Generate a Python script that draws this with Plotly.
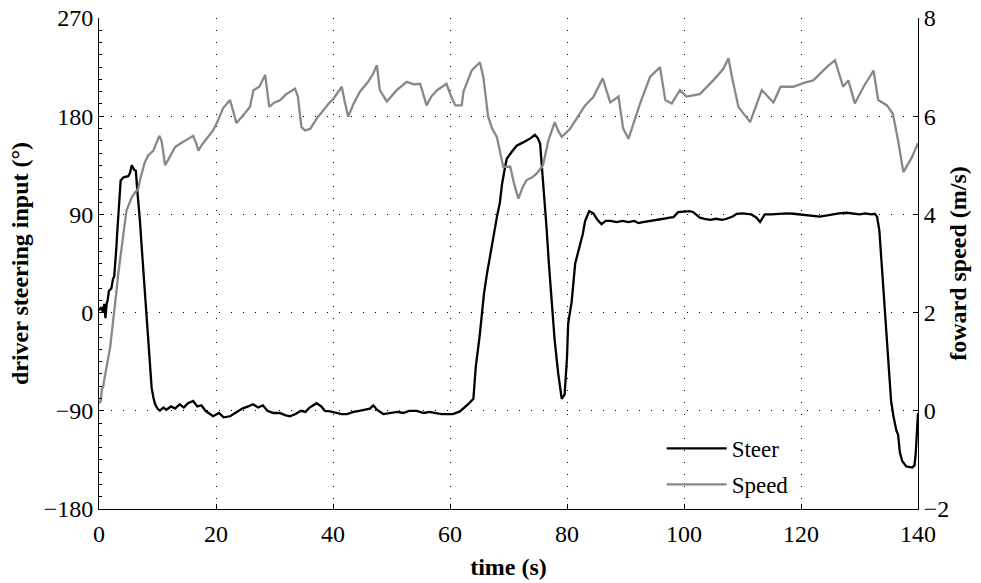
import plotly.graph_objects as go

# ---- data ----
steer_t = [0.0,0.4,0.7,0.9,1.1,1.3,1.5,1.7,2.1,2.4,2.6,2.8,3.0,3.1,3.3,3.5,3.7,4.2,5.0,5.3,5.6,6.0,6.3,6.5,6.9,7.0,7.3,7.5,7.7,7.9,8.1,8.3,8.6,8.9,9.0,9.3,9.6,10.0,10.4,11.0,11.5,12.3,13.0,13.8,14.5,15.2,16.1,16.8,17.5,18.2,19.0,19.5,20.5,21.3,22.4,23.5,24.5,25.5,26.3,27.2,28.0,28.8,29.8,30.9,31.8,32.6,33.6,34.5,35.3,36.0,37.2,38.0,38.6,39.5,40.5,41.5,42.4,43.5,44.5,45.5,46.3,46.9,47.5,48.6,49.8,51.0,52.0,53.0,54.3,55.5,56.5,57.5,58.5,59.4,60.5,61.7,62.5,63.3,64.0,64.4,65.1,65.8,66.3,66.8,67.2,67.7,68.1,68.5,68.9,69.4,69.7,70.5,71.4,72.5,73.7,74.5,75.0,75.4,75.7,76.0,76.5,76.9,77.4,77.9,78.5,79.1,79.6,80.0,80.2,80.8,81.4,82.2,82.7,83.1,83.8,84.5,85.2,85.9,86.6,87.4,88.5,89.5,90.5,91.5,92.2,93.0,94.5,95.5,96.5,97.5,98.2,99.0,100.0,101.0,101.6,102.7,103.5,104.5,105.5,106.5,107.3,108.3,109.0,110.0,111.5,112.4,113.0,113.8,115.0,116.5,117.5,118.7,120.0,121.5,123.2,124.5,125.5,126.5,127.8,129.0,130.0,131.0,132.0,132.6,133.0,133.4,134.0,134.5,134.9,135.4,135.8,136.0,136.3,136.6,136.9,137.3,138.0,139.0,139.4,139.6,139.8,140.0]
steer_deg = [2,5,0,8,-5,8,12,20,22,31,33,45,62,72,88,103,121,124,125,128,135,131,130,115,95,84,60,45,25,8,-5,-19,-47,-62,-69,-78,-84,-88,-90,-87,-89,-86,-88,-84,-87,-83,-81,-86,-85,-90,-93,-95,-92,-96,-95,-91,-88,-86,-84,-87,-85,-90,-92,-92,-94,-95,-93,-90,-91,-87,-83,-86,-90,-90.6,-92,-93,-93,-91,-90,-89,-88,-85,-89,-93,-92,-91,-92,-90,-90,-92,-91,-92,-93,-93,-93,-90.6,-87,-83,-79,-50,-20,17,35,51,62,81,90,100,118,133,141,147,153,156,159.5,163,160,155,135,112,78,45,11,-26,-56,-79,-75,-41,-10,10,45,62,72,84,93,91,85,81,84,84,83,84,83,84,82,83,84,85,86,87,87.5,92,92.5,93,92,87,86,85,86,85,86,88,90.6,91,90,87,83,90,90,90.5,91,90.6,90,89,88,89,90,91,91.5,91,90,91,90,90.6,88,75,26,-13,-47,-81,-95,-100,-108,-112,-128,-136,-141,-142,-140,-130,-110,-92]

speed_t = [0.0,0.3,0.5,0.7,1.0,1.3,1.6,1.9,2.2,2.45,2.7,3.0,3.3,3.6,3.9,4.3,4.7,5.1,5.6,6.2,6.7,7.0,7.3,7.8,8.4,9.3,9.8,10.3,10.7,11.0,11.3,12.0,13.0,14.0,15.0,16.1,16.6,17.0,17.6,18.4,19.5,20.3,21.2,22.4,23.0,23.5,24.5,25.8,26.4,27.4,28.4,28.8,29.1,30.0,31.0,32.0,33.5,34.0,34.6,35.2,36.1,37.2,38.3,39.2,40.1,41.5,42.0,42.6,43.5,44.6,46.0,46.8,47.5,48.0,49.2,50.0,50.9,52.6,53.8,54.9,55.5,56.0,56.8,57.8,59.4,60.2,60.9,62.0,62.3,63.0,63.7,65.1,65.7,66.5,67.2,68.0,68.5,69.1,70.3,71.0,71.7,72.4,73.1,74.0,74.8,75.9,76.8,77.9,78.5,79.1,80.5,81.1,82.2,83.1,84.5,86.1,86.8,87.4,88.8,89.6,90.5,91.5,92.5,94.2,95.9,96.8,97.9,99.3,100.4,102.7,105.0,106.7,107.6,108.2,109.3,111.3,112.3,113.3,115.3,116.5,118.7,120.5,122.1,124.4,125.8,127.2,128.1,129.2,130.7,132.4,133.2,134.7,135.7,136.6,137.5,138.9,140.0]
speed_ms = [0.15,0.2,0.45,0.48,0.7,0.89,1.1,1.29,1.6,1.84,2.1,2.45,2.8,3.06,3.4,3.74,4.08,4.2,4.35,4.45,4.52,4.7,4.83,5.05,5.2,5.3,5.45,5.6,5.5,5.2,5.0,5.15,5.37,5.45,5.52,5.6,5.45,5.3,5.42,5.54,5.71,5.9,6.16,6.33,6.1,5.86,6.0,6.19,6.53,6.6,6.84,6.5,6.19,6.28,6.33,6.45,6.56,6.4,5.78,5.71,5.74,5.95,6.12,6.25,6.36,6.6,6.3,5.99,6.25,6.5,6.7,6.85,7.04,6.53,6.3,6.4,6.53,6.7,6.65,6.66,6.4,6.22,6.4,6.53,6.66,6.4,6.22,6.22,6.5,6.7,6.93,7.1,6.8,6.0,5.75,5.58,5.3,4.97,4.97,4.6,4.32,4.55,4.7,4.75,4.83,5.0,5.5,5.88,5.7,5.58,5.74,5.85,6.05,6.22,6.39,6.77,6.5,6.28,6.4,5.75,5.54,5.9,6.26,6.8,7.0,6.33,6.26,6.53,6.4,6.45,6.73,6.96,7.18,6.8,6.19,5.88,6.2,6.53,6.28,6.6,6.6,6.68,6.73,7.0,7.14,6.6,6.73,6.26,6.6,6.93,6.33,6.22,6.05,5.5,4.86,5.15,5.45]

x_ticks = [0, 20, 40, 60, 80, 100, 120, 140]
y_ticks = [-180, -90, 0, 90, 180, 270]
y2_ticks = [-2, 0, 2, 4, 6, 8]


def lab(v):
    return str(v).replace("-", "\u2212")


FONT = "Liberation Serif, Times New Roman, serif"
FS = 24

fig = go.Figure()
fig.add_trace(go.Scatter(x=steer_t, y=steer_deg, mode="lines", name="Steer",
                         line=dict(color="black", width=2.3), legendgroup="a"))
fig.add_trace(go.Scatter(x=speed_t, y=speed_ms, mode="lines", name="Speed", yaxis="y2",
                         line=dict(color="#888888", width=2.3), legendgroup="b"))

axis_common = dict(showline=True, linecolor="black", linewidth=1, ticks="inside",
                   ticklen=5, tickcolor="black", zeroline=False, automargin=False,
                   tickfont=dict(family=FONT, size=FS, color="black"))

fig.update_layout(
    width=981, height=583,
    margin=dict(l=99, r=63, t=18, b=74),
    paper_bgcolor="white", plot_bgcolor="white",
    font=dict(family=FONT, color="black"),
    xaxis=dict(range=[0, 140], tickvals=x_ticks, ticktext=[lab(v) for v in x_ticks],
               showgrid=True, gridcolor="black", griddash="1px,11px", gridwidth=1,
               ticklabelstandoff=3,
               title=dict(text="<b>time (s)</b>", font=dict(family=FONT, size=FS), standoff=12),
               **axis_common),
    yaxis=dict(range=[-180, 270], tickvals=y_ticks, ticktext=[lab(v) for v in y_ticks],
               showgrid=True, gridcolor="black", griddash="1px,11px", gridwidth=1,
               minor=dict(dtick=11.25, ticks="inside", ticklen=3, tickcolor="black", showgrid=False),
               title=dict(text="<b>driver steering input (\u00b0)</b>", font=dict(family=FONT, size=FS), standoff=8),
               **axis_common),
    yaxis2=dict(range=[-2, 8], tickvals=y2_ticks, ticktext=[lab(v) for v in y2_ticks],
                overlaying="y", side="right", showgrid=False,
                title=dict(text="<b>foward speed (m/s)</b>", font=dict(family=FONT, size=FS), standoff=0),
                **axis_common),
    legend=dict(x=0.687, y=0.167, xanchor="left", yanchor="top", bgcolor="rgba(0,0,0,0)",
                itemwidth=60,
                font=dict(family=FONT, size=23, color="black"), tracegroupgap=3),
    showlegend=True,
)

fig.write_html("out.html")
